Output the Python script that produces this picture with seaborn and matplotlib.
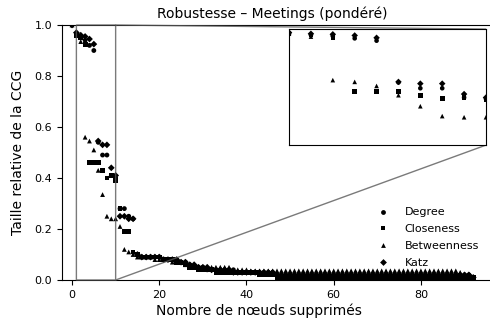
import matplotlib
matplotlib.use("Agg")
import matplotlib.pyplot as plt
import seaborn as sns
import pandas as pd

methods = ["Degree", "Closeness", "Betweenness", "Katz"]
removed = list(range(0, 93))

degree = [1.0,
    0.96, 0.95, 0.94, 0.92, 0.90, 0.54, 0.49, 0.49, 0.41, 0.40,
    0.28, 0.28, 0.25, 0.24, 0.10, 0.09, 0.09, 0.09, 0.09, 0.09,
    0.08, 0.08, 0.08, 0.08, 0.07, 0.07, 0.06, 0.05, 0.05, 0.05,
    0.04, 0.04, 0.04, 0.04, 0.04, 0.04, 0.04, 0.03, 0.03, 0.03,
    0.03, 0.03, 0.03, 0.03, 0.03, 0.03, 0.02, 0.02, 0.02, 0.02,
    0.02, 0.02, 0.02, 0.02, 0.02, 0.02, 0.02, 0.02, 0.02, 0.02,
    0.02, 0.02, 0.02, 0.02, 0.02, 0.02, 0.02, 0.02, 0.02, 0.02,
    0.02, 0.02, 0.02, 0.02, 0.02, 0.02, 0.02, 0.02, 0.02, 0.02,
    0.02, 0.02, 0.02, 0.02, 0.02, 0.02, 0.02, 0.02, 0.02, 0.02,
    0.02, 0.01]

closeness = [1.0,
    0.96, 0.95, 0.925, 0.46, 0.46, 0.46, 0.43, 0.40, 0.41, 0.39,
    0.28, 0.19, 0.19, 0.11, 0.10, 0.09, 0.09, 0.09, 0.09, 0.09,
    0.08, 0.08, 0.08, 0.07, 0.07, 0.06, 0.05, 0.05, 0.04, 0.04,
    0.04, 0.04, 0.03, 0.03, 0.03, 0.03, 0.03, 0.03, 0.03, 0.03,
    0.03, 0.03, 0.02, 0.02, 0.02, 0.02, 0.01, 0.01, 0.01, 0.01,
    0.01, 0.01, 0.01, 0.01, 0.01, 0.01, 0.01, 0.01, 0.01, 0.01,
    0.01, 0.01, 0.01, 0.01, 0.01, 0.01, 0.01, 0.01, 0.01, 0.01,
    0.01, 0.01, 0.01, 0.01, 0.01, 0.01, 0.01, 0.01, 0.01, 0.01,
    0.01, 0.01, 0.01, 0.01, 0.01, 0.01, 0.01, 0.01, 0.01, 0.01,
    0.01, 0.01]

betweenness = [1.0,
    0.96, 0.935, 0.56, 0.545, 0.51, 0.43, 0.335, 0.25, 0.24, 0.24,
    0.21, 0.12, 0.11, 0.10, 0.09, 0.09, 0.09, 0.09, 0.08, 0.08,
    0.08, 0.08, 0.07, 0.07, 0.07, 0.06, 0.05, 0.05, 0.05, 0.05,
    0.05, 0.05, 0.05, 0.05, 0.05, 0.05, 0.04, 0.04, 0.04, 0.04,
    0.036, 0.036, 0.036, 0.036, 0.036, 0.036, 0.036, 0.036, 0.036, 0.036,
    0.036, 0.036, 0.036, 0.036, 0.036, 0.036, 0.036, 0.036, 0.036, 0.036,
    0.036, 0.036, 0.036, 0.036, 0.036, 0.036, 0.036, 0.036, 0.036, 0.036,
    0.036, 0.036, 0.036, 0.036, 0.036, 0.036, 0.036, 0.036, 0.036, 0.036,
    0.036, 0.036, 0.036, 0.036, 0.036, 0.036, 0.036, 0.036, 0.03, 0.02,
    0.02, 0.01]

katz = [1.0,
    0.97, 0.96, 0.955, 0.945, 0.925, 0.545, 0.53, 0.53, 0.44, 0.41,
    0.25, 0.25, 0.24, 0.24, 0.10, 0.09, 0.09, 0.09, 0.09, 0.09,
    0.08, 0.08, 0.08, 0.08, 0.07, 0.07, 0.06, 0.06, 0.05, 0.05,
    0.05, 0.04, 0.04, 0.04, 0.04, 0.04, 0.03, 0.03, 0.03, 0.03,
    0.03, 0.03, 0.03, 0.03, 0.03, 0.03, 0.02, 0.02, 0.02, 0.02,
    0.02, 0.02, 0.02, 0.02, 0.02, 0.02, 0.02, 0.02, 0.02, 0.02,
    0.02, 0.02, 0.02, 0.02, 0.02, 0.02, 0.02, 0.02, 0.02, 0.02,
    0.02, 0.02, 0.02, 0.02, 0.02, 0.02, 0.02, 0.02, 0.02, 0.02,
    0.02, 0.02, 0.02, 0.02, 0.02, 0.02, 0.02, 0.02, 0.02, 0.02,
    0.02, 0.01]

series = {"Degree": degree, "Closeness": closeness,
          "Betweenness": betweenness, "Katz": katz}
rows = []
for m in methods:
    for k, v in zip(removed, series[m]):
        rows.append({"removed": k, "size": v, "method": m})
df = pd.DataFrame(rows)

markers = {"Degree": "o", "Closeness": "s", "Betweenness": "^", "Katz": "D"}
palette = {m: "black" for m in methods}

fig = plt.figure(figsize=(4.9, 3.2), dpi=100)
ax = fig.add_axes([62 / 490, 40 / 320, 430 / 490, 255 / 320])

sns.scatterplot(data=df, x="removed", y="size", hue="method", style="method",
                hue_order=methods, style_order=methods, markers=markers,
                palette=palette, s=12, linewidth=0, ax=ax)

ax.set_xlim(-2.3, 96.3)
ax.set_ylim(0, 1.0)
ax.set_xticks([0, 20, 40, 60, 80])
ax.set_yticks([0.0, 0.2, 0.4, 0.6, 0.8, 1.0])
ax.tick_params(labelsize=8)
ax.set_title("Robustesse – Meetings (pondéré)", fontsize=10, pad=5, x=0.488)
ax.set_xlabel("Nombre de nœuds supprimés", fontsize=10)
ax.xaxis.set_label_coords(0.458, -0.093)
ax.set_ylabel("Taille relative de la CCG", fontsize=10, labelpad=7)

leg = ax.legend(loc="upper left", bbox_to_anchor=(0.711, 0.302), frameon=False,
                fontsize=8, labelspacing=0.61, handletextpad=0.9,
                borderaxespad=0, markerscale=1.0)

axins = ax.inset_axes([0.528, 0.529, 0.458, 0.455])
sns.scatterplot(data=df, x="removed", y="size", hue="method", style="method",
                hue_order=methods, style_order=methods, markers=markers,
                palette=palette, s=11, linewidth=0, ax=axins, legend=False)
axins.set_xlim(1, 10)
axins.set_ylim(0, 1.0)
axins.set_xticks([])
axins.set_yticks([])
axins.set_xlabel("")
axins.set_ylabel("")
ax.indicate_inset_zoom(axins, edgecolor="0.35", alpha=0.8, linewidth=1)

fig.savefig("out.png", dpi=100)
